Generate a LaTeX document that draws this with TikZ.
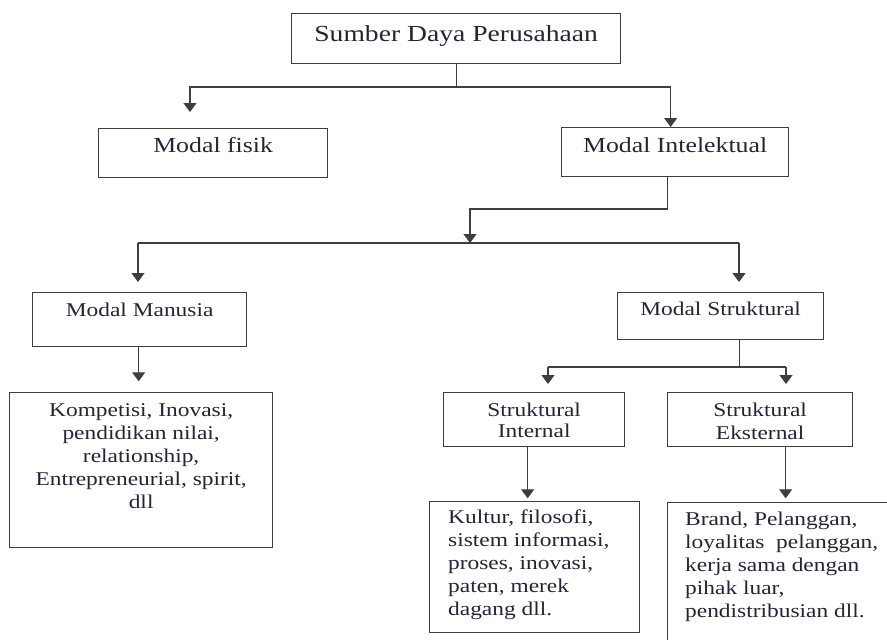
\documentclass[tikz,border=0pt]{standalone}
\usepackage{fontspec}
\setmainfont{Liberation Serif}[FakeStretch=1.2]
\usetikzlibrary{arrows.meta,positioning}
\definecolor{tinta}{RGB}{36,36,54}
\definecolor{garisabu}{RGB}{62,62,62}
\tikzset{
  kotak/.style 2 args={draw=garisabu, line width=1.3pt, inner sep=0pt,
    minimum width=#1, minimum height=#2, anchor=north west},
  isi/.style={inner sep=0pt, text=tinta, align=center,
    font=\fontsize{19.5}{23}\selectfont},
  besar/.style={font=\fontsize{21.5}{25}\selectfont},
  garis/.style={draw=garisabu, line width=1.2pt},
  panah/.style={garis, -{Triangle[width=13pt,length=9pt]}},
}
\begin{document}
\begin{tikzpicture}[x=1pt,y=-1pt]
    \useasboundingbox (0,0) rectangle (887,640);
    \clip (0,0) rectangle (887,640);
    % kotak
    \node[kotak={329pt}{50pt}] (sdp) at (291,13) {};
    \node[kotak={229pt}{49pt}] (fisik) at (98,128) {};
    \node[kotak={227pt}{49pt}] (intel) at (561,127) {};
    \node[kotak={214pt}{54pt}] (manusia) at (32,292) {};
    \node[kotak={206pt}{47pt}] (struk) at (617,292) {};
    \node[kotak={263pt}{155pt}] (kompetisi) at (9,392) {};
    \node[kotak={181pt}{54pt}] (intern) at (443,392) {};
    \node[kotak={185pt}{54pt}] (ekstern) at (667,392) {};
    \node[kotak={210pt}{131pt}] (kultur) at (429,501) {};
    \node[kotak={240pt}{170pt}] (brand) at (667,502) {};
    % teks
    \node[isi, font=\fontsize{23}{27}\selectfont, below=12pt of sdp.north] (sdp-t) {Sumber Daya Perusahaan};
    \node[isi, besar, below=9pt of fisik.north] (fisik-t) {Modal fisik};
    \node[isi, besar, below=10pt of intel.north] (intel-t) {Modal Intelektual};
    \node[isi, below=11pt of manusia.north] (manusia-t) {Modal Manusia};
    \node[isi, below=10pt of struk.north] (struk-t) {Modal Struktural};
    \node[isi, below=11pt of kompetisi.north] (kompetisi-t) {Kompetisi, Inovasi,\\pendidikan nilai,\\relationship,\\Entrepreneurial, spirit,\\dll};
    \node[isi, font=\fontsize{19.5}{21}\selectfont, below=11pt of intern.north] (intern-t) {Struktural\\Internal};
    \node[isi, below=11pt of ekstern.north] (ekstern-t) {Struktural\\Eksternal};
    \node[isi, align=left, anchor=north west] (kultur-t) at ([xshift=19pt,yshift=-9pt]kultur.north west) {Kultur, filosofi,\\sistem informasi,\\proses, inovasi,\\paten, merek\\dagang dll.};
    \node[isi, align=left, anchor=north west] (brand-t) at ([xshift=18pt,yshift=-10pt]brand.north west) {Brand, Pelanggan,\\loyalitas\ \ pelanggan,\\kerja sama dengan\\pihak luar,\\pendistribusian dll.};
    % panah
    \coordinate (cabang1) at (sdp.south |- 0,87);
    \coordinate (ujungfisik) at (190,112);
    \draw[garis] (sdp.south) -- (cabang1);
    \draw[panah] (cabang1) -| (ujungfisik);
    \draw[panah] (cabang1) -| ([xshift=-4.5pt]intel.north);
    \coordinate (cabang2) at (470,209);
    \coordinate (bagiA) at (138,243);
    \coordinate (bagiB) at (739,243);
    \draw[panah] ([xshift=-7.5pt]intel.south) |- (cabang2) -- (cabang2 |- bagiA);
    \draw[garis] (bagiA) -- (bagiB);
    \draw[panah] (bagiA) -- ++(0,39);
    \draw[panah] (bagiB) -- ++(0,39);
    \draw[panah] ([xshift=-1pt]manusia.south) -- ++(0,34);
    \coordinate (bagiC) at (548,367);
    \coordinate (bagiD) at (786,367);
    \draw[garis] ([xshift=19pt]struk.south) -- ++(0,28);
    \draw[garis] (bagiC) -- (bagiD);
    \draw[panah] (bagiC) -- ++(0,17);
    \draw[panah] (bagiD) -- ++(0,17);
    \draw[panah] ([xshift=-6.5pt]intern.south) -- ++(0,51);
    \draw[panah] ([xshift=25.5pt]ekstern.south) -- ++(0,51);
\end{tikzpicture}
\end{document}
